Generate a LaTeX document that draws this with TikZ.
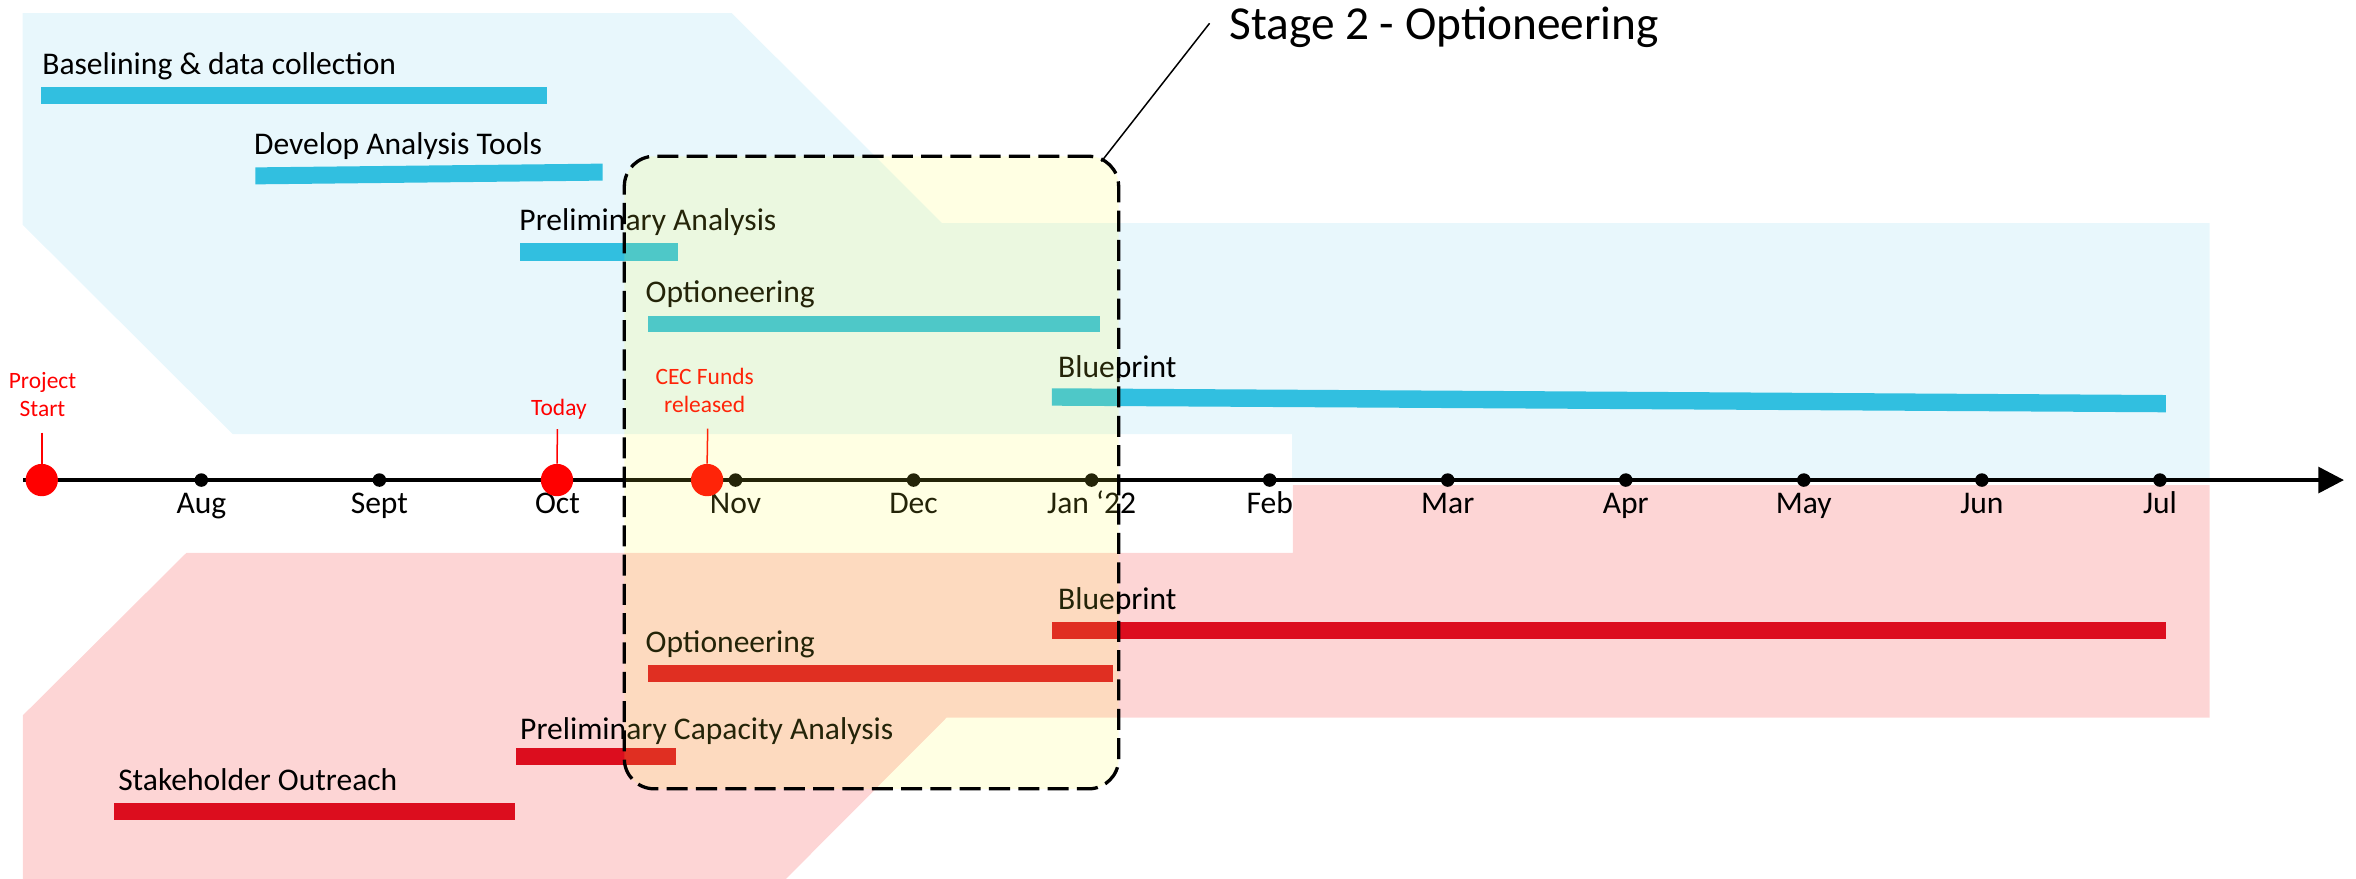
\documentclass[tikz,border=0pt]{standalone}
\usepackage{fontspec}
\setmainfont{Carlito}
\usetikzlibrary{arrows.meta}

\definecolor{bgblue}{HTML}{E8F7FC}
\definecolor{bgpink}{HTML}{FDD5D5}
\definecolor{barblue}{HTML}{31BFE0}
\definecolor{barred}{HTML}{DC0D1E}
\definecolor{stageyellow}{RGB}{255,255,60}
\definecolor{milestone}{HTML}{FF0000}

\tikzset{
  tasklabel/.style={anchor=base west, inner sep=0pt, font=\fontsize{21}{25}\selectfont},
  monthlabel/.style={anchor=base, inner sep=0pt, font=\fontsize{21}{25}\selectfont},
  tickdot/.style={circle, fill=black, inner sep=0pt, minimum size=9pt},
  mdot/.style={circle, fill=milestone, inner sep=0pt, minimum size=21.5pt},
  mline/.style={draw=milestone, line width=1pt},
  % base anchor of a multi-line label sits on its last line
  mlabel/.style={anchor=base, align=center, inner sep=0pt, text=milestone,
    font=\fontsize{15.6}{18.8}\selectfont},
  axisline/.style={line width=2.7pt, -{Triangle[length=17pt,width=17pt]}},
  stagebox/.style={draw=black, line width=2.2pt, dash pattern=on 14pt off 5.5pt,
    rounded corners=20pt, minimum width=329pt, minimum height=421pt, inner sep=0pt,
    fill=stageyellow, fill opacity=0.14},
  stagetitle/.style={anchor=base west, inner sep=0pt, font=\fontsize{31.5}{36}\selectfont},
  callout/.style={line width=1pt},
}

\begin{document}
\begin{tikzpicture}[x=1pt, y=-1pt]
\useasboundingbox (0,0) rectangle (1568,585);

% workstream bands
\fill[bgblue] (15,8.7) -- (487,8.7) -- (627,148.5) -- (1470.5,148.5) -- (1470.5,318)
  -- (860,318) -- (860,289) -- (155,289) -- (15,149.5) -- cycle;
\fill[bgpink] (15.3,585) -- (15.3,476) -- (124,368) -- (860.5,368) -- (860.5,322.8)
  -- (1470.5,322.8) -- (1470.5,477.6) -- (630,477.6) -- (523,585) -- cycle;

% task bars, upper workstream
\fill[barblue] (27,58) rectangle (364,69);
\fill[barblue] (170,111.4) -- (401,108.9) -- (401,120.2) -- (170,122.7) -- cycle;
\fill[barblue] (346,162) rectangle (451,173.5);
\fill[barblue] (431,210) rectangle (732,221);
\fill[barblue] (700,258.4) -- (1441.5,262.9) -- (1441.5,274.4) -- (700,270) -- cycle;

% task bars, lower workstream
\fill[barred] (700,414) rectangle (1441.5,425.5);
\fill[barred] (431,442.6) rectangle (741,454);
\fill[barred] (343.5,498) rectangle (450,509);
\fill[barred] (76,534.5) rectangle (343,545.7);

% time axis
\coordinate (axis-start) at (15.5,319.5);
\coordinate (axis-end) at (1560,319.5);
\draw[axisline] (axis-start) -- (axis-end);

\foreach \name/\lbl/\x in {aug/Aug/134, sept/Sept/252.5, oct/Oct/371, nov/Nov/489.5,
    dec/Dec/608, jan/{Jan ‘22}/726.5, feb/Feb/845, mar/Mar/963.5, apr/Apr/1082,
    may/May/1200.5, jun/Jun/1319, jul/Jul/1437.5} {
  \node[tickdot] (tick-\name) at (\x,319.5) {};
  \node[monthlabel] (month-\name) at (\x,341.5) {\lbl};
}

% milestones
\node[mdot] (start-dot) at (27.8,319.5) {};
\node[mdot] (today-dot) at (370.7,319.5) {};
\node[mdot] (cec-dot) at (470.6,319.5) {};

\coordinate (start-tip) at (27.8,288);
\coordinate (today-tip) at (371,285.6);
\coordinate (cec-tip) at (471,285.3);
\draw[mline] (start-tip) -- (start-dot.north);
\draw[mline] (today-tip) -- (today-dot.north);
\draw[mline] (cec-tip) -- (cec-dot.north);

\node[mlabel] (start-label) at (28.3,277.5) {Project\\Start};
\node[mlabel] (today-label) at (372,276.5) {Today};
\node[mlabel] (cec-label) at (469,274.6) {CEC Funds\\released};

% task labels
\node[tasklabel] (t-baseline) at (28,49.5) {Baselining \& data collection};
\node[tasklabel] (t-tools) at (169,102.5) {Develop Analysis Tools};
\node[tasklabel] (t-prelim) at (345.5,153.7) {Preliminary Analysis};
\node[tasklabel] (t-option-a) at (429.5,201) {Optioneering};
\node[tasklabel] (t-blue-a) at (704,251.5) {Blueprint};
\node[tasklabel] (t-blue-b) at (704,405.5) {Blueprint};
\node[tasklabel] (t-option-b) at (429.5,434) {Optioneering};
\node[tasklabel] (t-capacity) at (346,492) {Preliminary Capacity Analysis};
\node[tasklabel] (t-outreach) at (78.5,526) {Stakeholder Outreach};

% stage 2 window
\node[stagebox] (stage) at (580,314.5) {};
\node[stagetitle] (stage-title) at (818,26) {Stage 2 - Optioneering};
\coordinate (callout-foot) at (733,107.5);
\coordinate (callout-head) at (805,15.5);
\draw[callout] (callout-foot) -- (callout-head);

\end{tikzpicture}
\end{document}
